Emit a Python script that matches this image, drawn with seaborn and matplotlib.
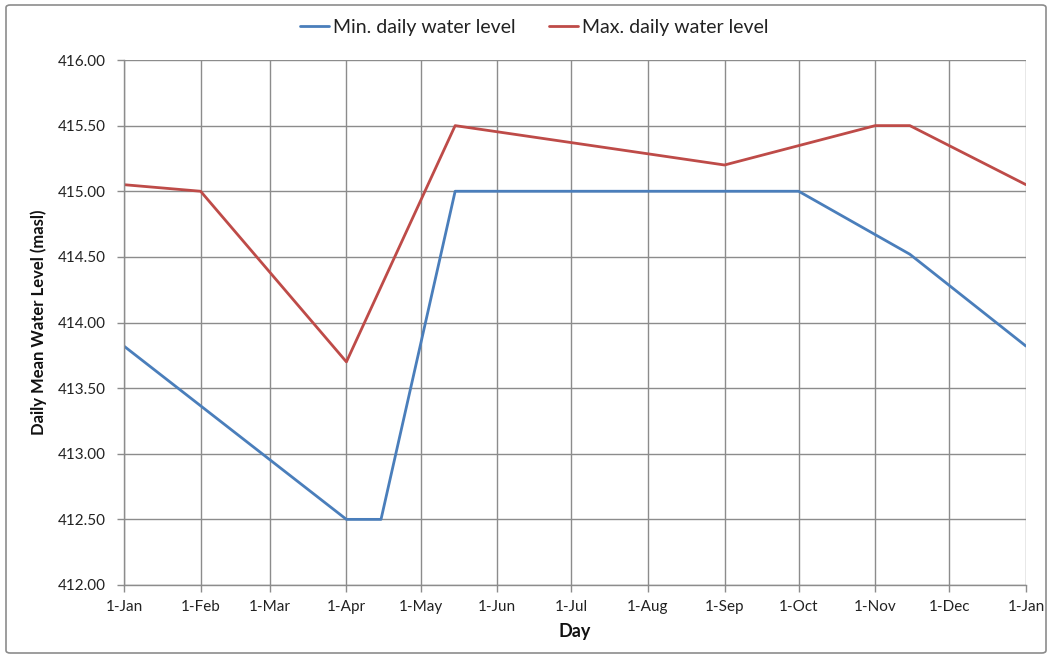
import matplotlib
matplotlib.use("Agg")
import matplotlib.pyplot as plt
import matplotlib.dates as mdates
from matplotlib.patches import FancyBboxPatch
import seaborn as sns
import pandas as pd

# ---- data ----
min_dates = ["2021-01-01", "2021-04-01", "2021-04-15", "2021-05-15", "2021-10-01", "2021-11-15", "2022-01-01"]
min_levels = [413.82, 412.50, 412.50, 415.00, 415.00, 414.52, 413.82]
max_dates = ["2021-01-01", "2021-02-01", "2021-04-01", "2021-05-15", "2021-09-01", "2021-11-01", "2021-11-15", "2022-01-01"]
max_levels = [415.05, 415.00, 413.70, 415.50, 415.20, 415.50, 415.50, 415.05]
series_names = ["Min. daily water level", "Max. daily water level"]
y_ticks = [412.0, 412.5, 413.0, 413.5, 414.0, 414.5, 415.0, 415.5, 416.0]

df = pd.concat([
    pd.DataFrame({"Day": pd.to_datetime(min_dates), "Level": min_levels, "Series": series_names[0]}),
    pd.DataFrame({"Day": pd.to_datetime(max_dates), "Level": max_levels, "Series": series_names[1]}),
], ignore_index=True)

sns.set_theme(style="white")
plt.rcParams["font.family"] = ["Lato", "DejaVu Sans"]

fig = plt.figure(figsize=(10.52, 6.58), dpi=100)
ax = fig.add_axes([124 / 1052, 1 - 585 / 658, (1026 - 124) / 1052, (585 - 60) / 658])

palette = {series_names[0]: "#4A7EBB", series_names[1]: "#BE4B48"}
sns.lineplot(data=df, x="Day", y="Level", hue="Series", palette=palette,
             linewidth=2.0, ax=ax, legend=True, estimator=None, sort=False)

ax.set_xlim(pd.Timestamp("2021-01-01"), pd.Timestamp("2022-01-01"))
ax.set_ylim(412.0, 416.0)
ax.set_yticks(y_ticks)
ax.yaxis.set_major_formatter(matplotlib.ticker.FormatStrFormatter("%.2f"))
ax.xaxis.set_major_locator(mdates.MonthLocator(bymonthday=1))
ax.xaxis.set_major_formatter(mdates.DateFormatter("%-d-%b"))

grid_color = "#8C8C8C"
ax.grid(True, color=grid_color, linewidth=1.0)
ax.set_axisbelow(True)
for s in ["top", "right"]:
    ax.spines[s].set_visible(False)
for s in ["left", "bottom"]:
    ax.spines[s].set_color(grid_color)
    ax.spines[s].set_linewidth(1.0)
ax.tick_params(axis="both", which="major", length=5, width=1.0, color=grid_color,
               labelsize=11, labelcolor="#222222", direction="out", bottom=True, left=True)
ax.tick_params(axis="x", pad=6)
ax.tick_params(axis="y", pad=8)

ax.set_xlabel("Day", fontsize=13, fontweight="bold", color="#111111", labelpad=6)
ax.set_ylabel("Daily Mean Water Level (masl)", fontsize=12, fontweight="bold", color="#111111", labelpad=8)

handles, labels = ax.get_legend_handles_labels()
ax.get_legend().remove()
leg = fig.legend(handles, labels, loc="center", bbox_to_anchor=(534 / 1052, 1 - 27 / 658), ncol=2,
                 frameon=False, fontsize=14, handlelength=1.5, handletextpad=0.2, columnspacing=1.7)
for t in leg.get_texts():
    t.set_color("#222222")

border = FancyBboxPatch((6 / 1052, 5 / 658), 1040 / 1052, 648 / 658,
                        boxstyle="round,pad=0,rounding_size=0.004",
                        transform=fig.transFigure, fill=False,
                        edgecolor="#8C8C8C", linewidth=1.2)
fig.patches.append(border)

fig.savefig("out.png", dpi=100, facecolor="white")
